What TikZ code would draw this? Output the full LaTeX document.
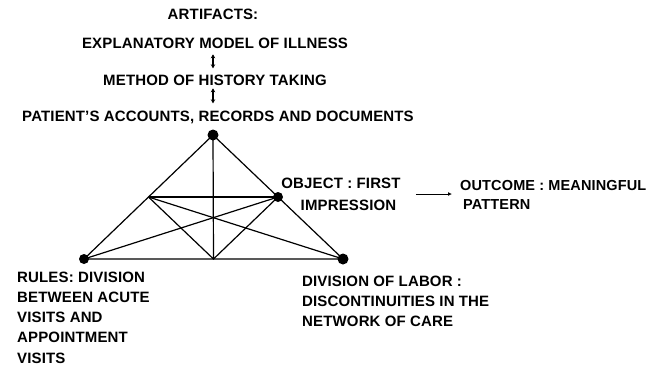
\documentclass[tikz,border=0pt]{standalone}
\usepackage{fontspec}
\setmainfont{Liberation Sans}[LetterSpace=1]
\usetikzlibrary{arrows.meta,calc}
\begin{document}
\begin{tikzpicture}[x=1pt,y=-1pt,
  lbl/.style={font=\bfseries\fontsize{15}{20}\selectfont, inner sep=0pt},
  edge/.style={line width=1.2pt},
  link/.style={line width=1.1pt,
    {Stealth[length=4pt,width=4.5pt]}-{Stealth[length=4pt,width=4.5pt]}},
  flow/.style={line width=1pt, -{Latex[length=4pt,width=4pt]}}
]
\useasboundingbox (0,0) rectangle (649,365);

% mediating artifacts, stacked above the apex
\node[lbl, anchor=base] (art)  at (213,19)  {ARTIFACTS:};
\node[lbl, anchor=base] (expl) at (215,48)  {EXPLANATORY MODEL OF ILLNESS};
\node[lbl, anchor=base] (meth) at (215,85)  {METHOD OF HISTORY TAKING};
\node[lbl, anchor=base] (pat)  at (218,121) {PATIENT'S ACCOUNTS, RECORDS AND DOCUMENTS};

% activity triangle
\coordinate (A) at (213,135);
\coordinate (L) at (84,259);
\coordinate (R) at (343,259);
\coordinate (M) at ($(A)!0.5!(L)$);
\coordinate (O) at ($(A)!0.5!(R)$);
\coordinate (B) at ($(L)!0.5!(R)$);

\draw[edge, line join=round] (A) -- (L) -- (R) -- cycle;
\draw[edge] (A) -- (B);
\draw[edge] (M) -- (O);
\draw[edge] (M) -- (B) -- (O);
\draw[edge] (M) -- (R);
\draw[edge] (O) -- (L);

\fill (A) circle (5.5);
\fill (L) circle (5);
\fill (R) circle (5.5);
\fill (O) circle (5);

% links between the artifact levels
\draw[link, shorten <=6pt, shorten >=6pt] (expl.south -| A) -- (meth.north -| A);
\draw[link, shorten <=3pt, shorten >=7pt] (meth.south -| A) -- (pat.north -| A);

% object and outcome
\node[lbl, font=\bfseries\fontsize{15}{22}\selectfont, align=center, anchor=north] (obj) at (341,177.5)
  {OBJECT : FIRST\\\hspace*{15pt}IMPRESSION};
\node[lbl, font=\bfseries\fontsize{14.5}{19}\selectfont, align=left, anchor=north west] (out) at (460,180.5)
  {OUTCOME : MEANINGFUL\\\hspace*{3pt}PATTERN};
\draw[flow, shorten <=15pt, shorten >=8pt] (obj.east) -- (obj.east -| out.west);

% rules and division of labor
\node[lbl, font=\bfseries\fontsize{15}{20.25}\selectfont, align=left, anchor=north west] (rules) at (17,271.5)
  {RULES: DIVISION\\BETWEEN ACUTE\\VISITS AND\\APPOINTMENT\\VISITS};
\node[lbl, align=left, anchor=north west] (div) at (302,275.5)
  {DIVISION OF LABOR :\\DISCONTINUITIES IN THE\\NETWORK OF CARE};
\end{tikzpicture}
\end{document}
